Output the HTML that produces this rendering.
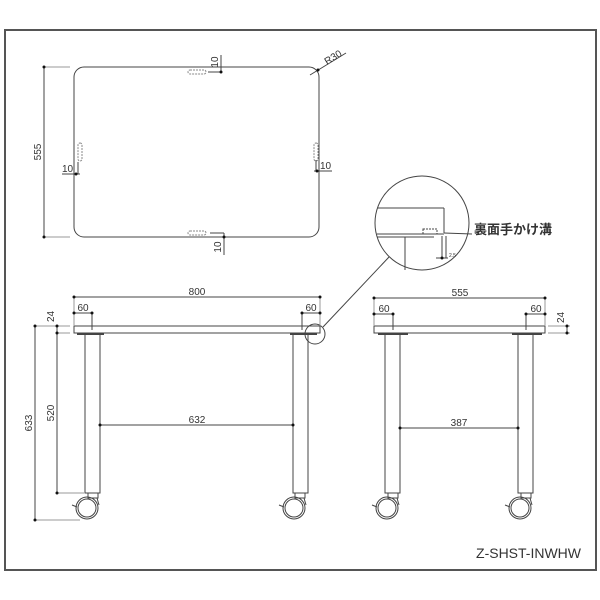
<!DOCTYPE html>
<html><head><meta charset="utf-8"><style>
html,body{margin:0;padding:0;background:#fff;width:600px;height:600px;overflow:hidden}
svg{display:block}
text{font-family:"Liberation Sans","Noto Sans CJK JP",sans-serif;fill:#333}
</style></head><body>
<svg width="600" height="600" viewBox="0 0 600 600" xmlns="http://www.w3.org/2000/svg">
<g fill="none" stroke="#444" stroke-width="1">
<rect x="5" y="30" width="591" height="540" stroke="#555" stroke-width="2"/>
<!-- top view -->
<rect x="74" y="67" width="245" height="170" rx="10"/>
<g stroke="#888" stroke-dasharray="2,1">
<rect x="188" y="70" width="18" height="4" rx="2"/>
<rect x="188" y="231" width="18" height="4" rx="2"/>
<rect x="78" y="143" width="4" height="18" rx="2"/>
<rect x="314" y="143" width="4" height="18" rx="2"/>
</g>
<line x1="44" y1="67" x2="44" y2="237"/>
<line x1="44" y1="67" x2="70" y2="67" stroke="#999"/>
<line x1="44" y1="237" x2="70" y2="237" stroke="#999"/>
<line x1="208" y1="72" x2="221" y2="72"/><line x1="221" y1="55" x2="221" y2="72"/>
<line x1="210" y1="233" x2="224" y2="233"/><line x1="224" y1="233" x2="224" y2="255"/>
<line x1="78" y1="162" x2="78" y2="174"/><line x1="62" y1="174" x2="80" y2="174"/>
<line x1="316" y1="160" x2="316" y2="171"/><line x1="314" y1="171" x2="332" y2="171"/>
<line x1="310" y1="75" x2="346" y2="53"/>
<!-- detail circle -->
<circle cx="422" cy="223" r="47"/>
<line x1="389" y1="257" x2="323" y2="327"/>
<line x1="377" y1="208" x2="444" y2="208"/>
<line x1="444" y1="208" x2="444" y2="233"/>
<line x1="377" y1="234" x2="444" y2="234"/>
<line x1="377" y1="237" x2="434" y2="237"/>
<line x1="405" y1="237" x2="405" y2="270"/>
<rect x="423" y="229" width="14" height="5" stroke-dasharray="2,1"/>
<line x1="444" y1="233" x2="472" y2="234"/>
<line x1="442" y1="236" x2="442" y2="258"/><line x1="446" y1="236" x2="446" y2="258"/>
<line x1="436" y1="258" x2="448" y2="258"/>
<!-- front view -->
<rect x="74" y="326" width="246" height="7"/>
<line x1="77" y1="334" x2="104" y2="334" stroke-width="2"/>
<line x1="290" y1="334" x2="317" y2="334" stroke-width="2"/>
<rect x="85" y="334" width="15" height="159"/>
<rect x="293" y="334" width="15" height="159"/>
<circle cx="315" cy="334" r="10"/>
<line x1="74" y1="297" x2="320" y2="297"/>
<line x1="74" y1="297" x2="74" y2="326" stroke="#999"/><line x1="320" y1="297" x2="320" y2="326" stroke="#999"/>
<line x1="74" y1="313" x2="92" y2="313"/><line x1="92" y1="313" x2="92" y2="330"/>
<line x1="302" y1="313" x2="320" y2="313"/><line x1="302" y1="313" x2="302" y2="330"/>
<line x1="57" y1="326" x2="57" y2="333"/><line x1="57" y1="333" x2="57" y2="493"/>
<line x1="35" y1="326" x2="35" y2="520"/>
<line x1="35" y1="326" x2="70" y2="326" stroke="#999"/><line x1="57" y1="333" x2="70" y2="333" stroke="#999"/>
<line x1="57" y1="493" x2="84" y2="493" stroke="#999"/><line x1="35" y1="520" x2="80" y2="520" stroke="#999"/>
<line x1="100" y1="425" x2="293" y2="425"/>
<!-- side view -->
<rect x="374" y="326" width="171" height="7"/>
<line x1="378" y1="334" x2="408" y2="334" stroke-width="2"/>
<line x1="512" y1="334" x2="542" y2="334" stroke-width="2"/>
<rect x="385" y="334" width="15" height="159"/>
<rect x="518" y="334" width="15" height="159"/>
<line x1="374" y1="298" x2="545" y2="298"/>
<line x1="374" y1="298" x2="374" y2="326" stroke="#999"/><line x1="545" y1="298" x2="545" y2="326" stroke="#999"/>
<line x1="374" y1="314" x2="393" y2="314"/><line x1="393" y1="314" x2="393" y2="330"/>
<line x1="526" y1="314" x2="545" y2="314"/><line x1="526" y1="314" x2="526" y2="330"/>
<line x1="567" y1="326" x2="567" y2="334"/>
<line x1="548" y1="326" x2="570" y2="326" stroke="#999"/><line x1="548" y1="333" x2="570" y2="333" stroke="#999"/>
<line x1="400" y1="428" x2="518" y2="428"/>
<!-- casters -->
<g id="c">
<path d="M88 493 L88 498 L98 498 L98 493"/>
<path d="M89 498 L97 498 L99 505"/>
<circle cx="87" cy="508" r="11"/>
<circle cx="87" cy="508" r="9"/>
<line x1="72" y1="505" x2="77" y2="507"/>
</g>
<use href="#c" x="207"/>
<use href="#c" x="300"/>
<use href="#c" x="433"/>
</g>
<g fill="#111">
<circle cx="221" cy="72" r="1.5"/><circle cx="224" cy="237" r="1.5"/>
<circle cx="76" cy="174" r="1.5"/><circle cx="317" cy="171" r="1.5"/><circle cx="318" cy="70" r="1.5"/>
<circle cx="44" cy="67" r="1.5"/><circle cx="44" cy="237" r="1.5"/>
<circle cx="74" cy="297" r="1.5"/><circle cx="320" cy="297" r="1.5"/>
<circle cx="74" cy="313" r="1.5"/><circle cx="92" cy="313" r="1.5"/><circle cx="302" cy="313" r="1.5"/><circle cx="320" cy="313" r="1.5"/>
<circle cx="57" cy="326" r="1.5"/><circle cx="57" cy="333" r="1.5"/><circle cx="57" cy="493" r="1.5"/>
<circle cx="35" cy="326" r="1.5"/><circle cx="35" cy="520" r="1.5"/>
<circle cx="100" cy="425" r="1.5"/><circle cx="293" cy="425" r="1.5"/>
<circle cx="374" cy="298" r="1.5"/><circle cx="545" cy="298" r="1.5"/>
<circle cx="374" cy="314" r="1.5"/><circle cx="393" cy="314" r="1.5"/><circle cx="526" cy="314" r="1.5"/><circle cx="545" cy="314" r="1.5"/>
<circle cx="567" cy="326" r="1.5"/><circle cx="567" cy="333" r="1.5"/>
<circle cx="400" cy="428" r="1.5"/><circle cx="518" cy="428" r="1.5"/>
<circle cx="442" cy="258" r="1.5"/>
</g>
<g font-size="10">
<text transform="translate(41,152) rotate(-90)" text-anchor="middle">555</text>
<text transform="translate(218,62) rotate(-90)" text-anchor="middle">10</text>
<text transform="translate(221,247) rotate(-90)" text-anchor="middle">10</text>
<text x="62" y="172">10</text>
<text x="320" y="169">10</text>
<text transform="translate(327,65) rotate(-32)">R30</text>
<text x="197" y="295" text-anchor="middle">800</text>
<text x="83" y="311" text-anchor="middle">60</text>
<text x="311" y="311" text-anchor="middle">60</text>
<text transform="translate(54,322) rotate(-90)">24</text>
<text transform="translate(54,413) rotate(-90)" text-anchor="middle">520</text>
<text transform="translate(32,423) rotate(-90)" text-anchor="middle">633</text>
<text x="197" y="423" text-anchor="middle">632</text>
<text x="460" y="296" text-anchor="middle">555</text>
<text x="384" y="312" text-anchor="middle">60</text>
<text x="536" y="312" text-anchor="middle">60</text>
<text transform="translate(564,323) rotate(-90)">24</text>
<text x="459" y="426" text-anchor="middle">387</text>
</g>
<text x="449" y="257" font-size="5">2.5</text>
<text x="474" y="234" font-size="13" font-weight="bold" fill="#111">裏面手かけ溝</text>
<text x="581" y="558" font-size="14" text-anchor="end" fill="#222">Z-SHST-INWHW</text>
</svg>
</body></html>
